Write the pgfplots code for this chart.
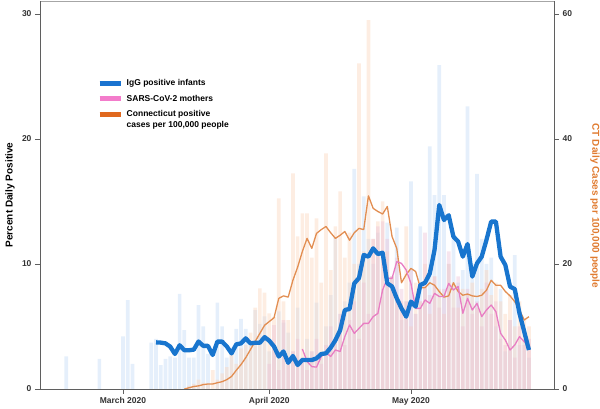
\documentclass[border=0pt]{standalone}
\usepackage{pgfplots}
\pgfplotsset{compat=1.18}
\usepackage{pgfplotstable}
\usepackage{fontspec}
\setmainfont{Liberation Sans}

\definecolor{blueline}{RGB}{24,117,206}
\definecolor{pinkline}{RGB}{232,125,195}
\definecolor{orangeline}{RGB}{226,142,82}
\definecolor{bluebar}{RGB}{190,215,245}
\definecolor{orangebar}{RGB}{251,210,182}
\definecolor{pinkbar}{RGB}{236,190,212}
\definecolor{legblue}{RGB}{26,115,208}
\definecolor{legpink}{RGB}{243,124,203}
\definecolor{legorange}{RGB}{224,104,30}
\definecolor{ctlabel}{RGB}{224,123,48}
\definecolor{axisgray}{RGB}{95,95,95}

% day 0 = 1 March 2020
\pgfplotstableread{
d v
-12 2.6
-5 2.4
0 4.2
1 7.1
2 2.0
6 3.7
7 4.0
8 1.9
9 2.4
10 2.6
11 2.5
12 7.6
13 4.7
14 2.5
15 2.5
16 6.7
17 5.0
18 2.8
20 6.9
21 5.0
22 2.5
23 3.3
24 4.8
25 5.6
26 4.8
27 3.6
28 6.3
29 5.2
30 5.8
31 3.0
32 3.5
33 6.2
34 5.3
35 4.5
36 3.0
37 6.5
38 2.5
39 4.0
40 3.0
41 6.9
42 2.5
43 5.0
44 7.5
45 12.1
46 6.0
47 7.0
48 8.5
49 17.6
50 10.0
51 15.4
52 12.0
53 10.0
54 12.5
55 8.0
56 13.3
57 9.0
58 12.9
59 5.5
60 7.0
61 16.6
62 6.0
63 13.0
64 8.0
65 19.4
66 15.5
67 25.9
68 15.5
69 10.0
70 12.0
71 8.5
72 9.5
73 22.6
74 10.0
75 17.2
76 12.0
77 10.0
78 10.5
79 5.0
80 8.0
81 3.0
82 5.5
83 10.7
84 3.5
85 4.0
86 2.5
}\infbars

\pgfplotstableread{
d v
31 2.0
32 5.1
33 1.5
34 5.5
35 2.0
36 3.0
37 4.0
38 2.5
39 1.5
40 3.0
41 4.0
42 2.0
43 3.5
44 5.0
45 4.0
46 6.0
47 3.5
48 5.5
49 7.0
50 4.0
51 8.5
52 6.0
53 12.0
54 13.0
55 13.4
56 12.0
57 9.0
58 10.5
59 8.0
60 7.0
61 9.5
62 6.0
63 7.0
64 12.5
65 7.5
66 9.0
67 6.5
68 8.0
69 11.0
70 6.5
71 9.0
72 5.0
73 8.0
74 6.0
75 7.0
76 5.0
77 8.5
78 6.0
79 7.0
80 4.0
81 3.5
82 5.5
83 2.5
84 5.0
85 3.5
86 4.0
}\motbars

% CT daily cases per 100,000 (right axis)
\pgfplotstableread{
d v
14 0.5
15 0.8
16 1.5
17 1.0
18 0.8
19 3.0
20 1.5
21 2.5
22 3.5
23 5.7
24 4.0
25 6.5
26 7.0
27 9.0
28 13.0
29 16.1
30 15.4
31 12.1
32 11.5
33 30.5
34 14.0
35 11.0
36 34.5
37 24.4
38 28.1
39 28.1
40 21.0
41 27.3
42 17.0
43 37.7
44 19.0
45 26.0
46 31.6
47 21.0
48 25.0
49 20.0
50 52.1
51 22.0
52 59.0
53 24.0
54 26.8
55 30.0
56 22.0
57 18.0
58 15.0
59 14.0
60 26.0
61 10.0
62 17.0
63 14.0
64 20.0
65 12.0
66 18.0
67 16.0
68 12.0
69 20.0
70 17.0
71 13.0
72 16.0
73 15.0
74 17.0
75 13.0
76 16.0
77 19.0
78 15.0
79 17.0
80 14.0
81 12.0
82 15.0
83 10.0
84 14.0
85 11.0
86 10.0
}\ctbars

\pgfplotstableread{
d v
7 3.73
8 3.71
9 3.65
10 3.39
11 2.8
12 3.5
13 3.1
14 3.1
15 3.15
16 3.8
17 3.45
18 3.45
19 2.72
20 3.79
21 3.79
22 3.4
23 2.85
24 3.57
25 3.65
26 4.05
27 3.65
28 3.7
29 3.7
30 4.15
31 3.86
32 3.4
33 2.6
34 3.0
35 2.1
36 2.64
37 1.92
38 2.32
39 2.32
40 2.32
41 2.45
42 2.8
43 2.85
44 3.3
45 3.9
46 4.7
47 6.32
48 6.4
49 8.45
50 8.88
51 10.72
52 10.59
53 11.25
54 10.8
55 10.9
56 8.45
57 8.2
58 7.25
59 6.45
60 5.79
61 6.99
62 6.59
63 8.32
64 8.5
65 9.25
66 11.12
67 14.72
68 13.52
69 13.9
70 12.19
71 11.79
72 10.59
73 11.6
74 8.99
75 10.05
76 10.59
77 11.92
78 13.39
79 13.39
80 10.59
81 9.92
82 8.19
83 7.99
84 6.05
85 4.59
86 3.12
}\infline

\pgfplotstableread{
d v
38 3.2
39 2.2
40 1.79
41 1.75
42 2.59
43 2.92
44 2.6
45 3.12
46 3.0
47 4.19
48 5.12
49 4.45
50 4.85
51 5.25
52 5.25
53 5.79
54 6.05
55 7.92
56 8.85
57 8.85
58 10.19
59 10.05
60 9.52
61 8.45
62 6.45
63 6.45
64 7.12
65 6.85
66 7.65
67 7.4
68 7.4
69 8.45
70 7.92
71 8.2
72 6.05
73 7.25
74 6.32
75 6.85
76 5.79
77 6.32
78 6.72
79 6.19
80 4.45
81 3.92
82 3.12
83 3.52
84 4.19
85 3.79
86 3.39
}\motline

\pgfplotstableread{
d v
13 0
14 0.2
15 0.4
16 0.5
17 0.7
18 0.8
19 0.8
20 1.0
21 1.17
22 1.5
23 2.0
24 3.0
25 3.9
26 5.0
27 6.3
28 7.6
29 8.9
30 10.2
31 10.8
32 11.4
33 14.5
34 14.9
35 14.7
36 17.4
37 19.5
38 22.0
39 24.1
40 22.5
41 24.9
42 25.5
43 26.0
44 25.0
45 24.1
46 24.6
47 25.2
48 23.8
49 25.0
50 25.7
51 25.5
52 30.9
53 28.9
54 28.4
55 28.0
56 29.2
57 24.4
58 22.5
59 17.0
60 18.3
61 19.3
62 18.8
63 16.2
64 16.2
65 17.0
66 16.6
67 15.6
68 14.7
69 14.9
70 17.0
71 15.6
72 15.0
73 15.2
74 14.9
75 14.8
76 15.0
77 15.8
78 17.4
79 16.6
80 16.6
81 15.6
82 14.9
83 13.97
84 12.64
85 11.04
86 11.57
}\ctline

\begin{document}
\begin{tikzpicture}[font=\bfseries]
% right axis (CT daily cases) and top border
\begin{axis}[
  scale only axis, width=514pt, height=388pt,
  at={(0pt,0pt)}, anchor=south west,
  xmin=-17.58, xmax=91.31, ymin=0, ymax=62.08,
  axis x line*=top, axis y line*=right,
  x axis line style={draw=black!35, line width=0.8pt},
  y axis line style={draw=axisgray, line width=0.8pt},
  xtick=\empty,
  ytick={0,20,40,60},
  tick align=outside, major tick length=5pt,
  tick style={draw=axisgray, line width=0.8pt},
  /pgf/number format/assume math mode=true,
  yticklabel style={font=\fontsize{8.5}{10}\selectfont\bfseries, text=black!80},
  ylabel={CT Daily Cases per 100,000 people},
  every axis y label/.style={at={(axis description cs:1,0.5)}, xshift=41pt, yshift=-11pt, rotate=-90, anchor=center, font=\fontsize{10}{12}\selectfont\bfseries, text=ctlabel},
]
\addplot[draw=none] coordinates {(0,0)};
\end{axis}
% main axis
\begin{axis}[
  scale only axis, width=514pt, height=388pt,
  at={(0pt,0pt)}, anchor=south west,
  xmin=-17.58, xmax=91.31, ymin=0, ymax=31.04,
  axis x line*=bottom, axis y line*=left,
  axis line style={draw=axisgray, line width=0.8pt},
  xtick={0,31,61}, xticklabels={March 2020, April 2020, May 2020},
  ytick={0,10,20,30},
  tick align=outside, major tick length=5pt,
  tick style={draw=axisgray, line width=0.8pt},
  /pgf/number format/assume math mode=true,
  ticklabel style={font=\fontsize{8.5}{10}\selectfont\bfseries, text=black!80},
  ylabel={Percent Daily Positive},
  every axis y label/.style={at={(axis description cs:0,0.5)}, xshift=-30pt, rotate=90, anchor=center, font=\fontsize{10}{12}\selectfont\bfseries},
  legend cell align=left,
  legend style={at={(axis description cs:0.111,0.80)}, anchor=north west, draw=none, fill=none,
    font=\fontsize{8.5}{10.3}\selectfont\bfseries, row sep=7pt, column sep=3pt, inner sep=0pt,
    nodes={inner sep=0.5pt, align=left}},
]
\addplot[ybar, bar width=3.7pt, bar shift=0pt, fill=bluebar, fill opacity=0.4, draw=none, forget plot] table[x=d, y=v] {\infbars};
\addplot[ybar, bar width=3.7pt, bar shift=0pt, fill=orangebar, fill opacity=0.4, draw=none, forget plot] table[x=d, y expr=\thisrow{v}/2] {\ctbars};
\addplot[ybar, bar width=3.7pt, bar shift=0pt, fill=pinkbar, fill opacity=0.4, draw=none, forget plot] table[x=d, y=v] {\motbars};
\addplot[orangeline, line width=1.3pt, line join=round, forget plot] table[x=d, y expr=\thisrow{v}/2] {\ctline};
\addplot[pinkline, line width=1.3pt, line join=round, forget plot] table[x=d, y=v] {\motline};
\addplot[blueline, line width=4.3pt, line join=round, forget plot] table[x=d, y=v] {\infline};
\addlegendimage{legend image code/.code={\draw[legblue, line width=5pt] (0pt,0pt) -- (21pt,0pt);}}
\addlegendentry{IgG positive infants}
\addlegendimage{legend image code/.code={\draw[legpink, line width=5pt] (0pt,0pt) -- (21pt,0pt);}}
\addlegendentry{SARS-CoV-2 mothers}
\addlegendimage{legend image code/.code={\draw[legorange, line width=5pt] (0pt,5pt) -- (21pt,5pt);}}
\addlegendentry{Connecticut positive\\cases per 100,000 people}
\end{axis}
\pgfresetboundingbox
\path[use as bounding box] (-40pt,-20pt) rectangle (560pt,389pt);
\end{tikzpicture}
\end{document}
